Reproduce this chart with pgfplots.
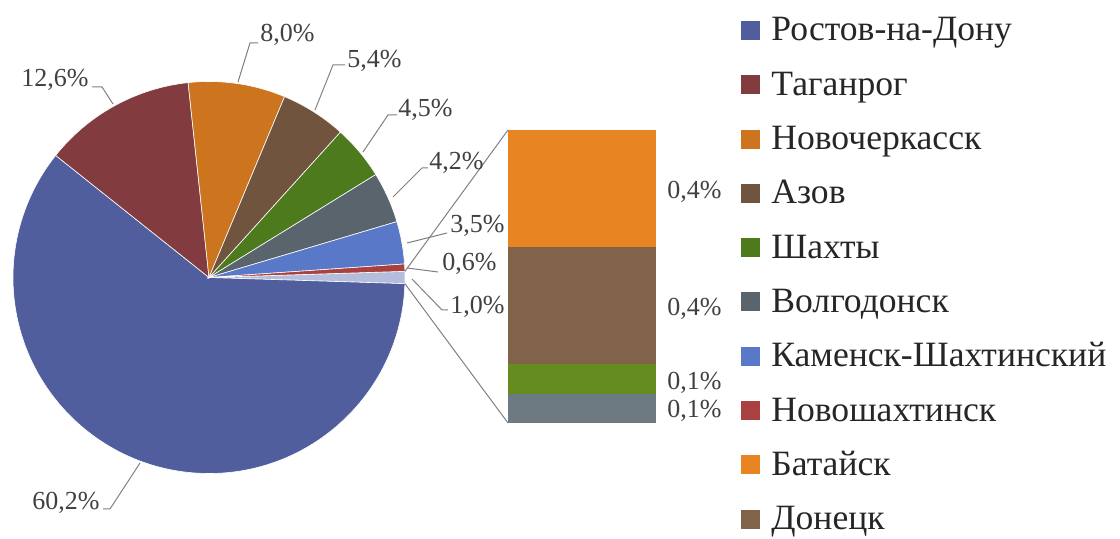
\documentclass[border=0pt]{standalone}
\usepackage{pgfplots}
\pgfplotsset{compat=1.18}
\usepackage{fontspec}
\setmainfont{Liberation Serif}
\definecolor{cRos}{RGB}{80,94,158}
\definecolor{cTag}{RGB}{130,60,63}
\definecolor{cNov}{RGB}{204,117,30}
\definecolor{cAzo}{RGB}{112,84,62}
\definecolor{cSha}{RGB}{78,122,30}
\definecolor{cVol}{RGB}{90,100,108}
\definecolor{cKam}{RGB}{90,120,200}
\definecolor{cNsh}{RGB}{170,65,65}
\definecolor{cOth}{RGB}{180,190,220}
\definecolor{cBat}{RGB}{232,133,35}
\definecolor{cDon}{RGB}{128,99,72}
\definecolor{cBGr}{RGB}{100,140,30}
\definecolor{cBGy}{RGB}{110,122,130}
\definecolor{lab}{RGB}{64,64,64}
\definecolor{lead}{RGB}{128,128,128}
\tikzset{blab/.style={anchor=west, inner sep=0pt, xshift=5.5pt, text=lab, font=\fontsize{13}{15}\selectfont}}
\begin{document}
\begin{tikzpicture}
% ---------- pie ----------
\begin{axis}[at={(104.5pt,-138.75pt)}, anchor=center, width=196pt, height=196pt,
  scale only axis, xmin=-1, xmax=1, ymin=-1, ymax=1, hide axis, clip=false]
\gdef\cur{1.8}
\foreach \v/\c in {1.0/cOth,60.2/cRos,12.6/cTag,8.0/cNov,5.4/cAzo,4.5/cSha,4.2/cVol,3.5/cKam,0.6/cNsh}{
  \pgfmathsetmacro\s{\cur}
  \pgfmathsetmacro\e{\cur-3.6*\v}
  \xdef\cur{\e}
  \edef\temp{\noexpand\fill[\c, draw=white, line width=0.3pt] (axis cs:0,0) -- (axis cs:{cos(\s)},{sin(\s)}) arc[start angle=\s, end angle=\e, radius=98pt] -- cycle;}
  \temp
}
\coordinate (pA) at (axis cs:{cos(1.8)},{sin(1.8)});
\coordinate (pB) at (axis cs:{cos(-1.8)},{sin(-1.8)});
\end{axis}
% ---------- bar of pie ----------
\begin{axis}[at={(254pt,-211.5pt)}, anchor=south west, width=74pt, height=146.5pt,
  scale only axis, xmin=-0.5, xmax=0.5, ymin=0, ymax=1.0, ybar stacked, bar width=74pt,
  hide axis, clip=false]
\addplot[fill=cBGy, draw=none] coordinates {(0,0.1)};
\addplot[fill=cBGr, draw=none] coordinates {(0,0.1)};
\addplot[fill=cDon, draw=none] coordinates {(0,0.4)};
\addplot[fill=cBat, draw=none] coordinates {(0,0.4)};
\node[blab] at (axis cs:0.5,0.79) {0,4\%};
\node[blab] at (axis cs:0.5,0.39) {0,4\%};
\node[blab] at (axis cs:0.5,0.137) {0,1\%};
\node[blab] at (axis cs:0.5,0.041) {0,1\%};
\coordinate (bT) at (axis cs:-0.5,1.0);
\coordinate (bB) at (axis cs:-0.5,0);
\end{axis}
\draw[lead, line width=0.5pt] (pA) -- (bT);
\draw[lead, line width=0.5pt] (pB) -- (bB);
% ---------- labels, leaders, legend (pixel units) ----------
\begin{scope}[x=0.5pt, y=-0.5pt]
\begin{scope}[every node/.style={inner sep=0pt, text=lab, font=\fontsize{13}{15}\selectfont}]
\draw[lead, line width=0.5pt] (113,104) -- (102,87) -- (92,87);
\node[anchor=east] at (89,80) {12,6\%};
\draw[lead, line width=0.5pt] (238,82) -- (250,43) -- (258,43);
\node[anchor=west] at (260,35) {8,0\%};
\draw[lead, line width=0.5pt] (315,110) -- (333,65) -- (345,65);
\node[anchor=west] at (347,61) {5,4\%};
\draw[lead, line width=0.5pt] (363,152) -- (388,115) -- (397,115);
\node[anchor=west] at (398,110) {4,5\%};
\draw[lead, line width=0.5pt] (393,197) -- (422,168) -- (428,168);
\node[anchor=west] at (429,163) {4,2\%};
\draw[lead, line width=0.5pt] (407,243) -- (447,233);
\node[anchor=west] at (450,226) {3,5\%};
\draw[lead, line width=0.5pt] (407,268) -- (438,272);
\node[anchor=west] at (442,264) {0,6\%};
\draw[lead, line width=0.5pt] (412,279) -- (442,310) -- (448,310);
\node[anchor=west] at (450,307) {1,0\%};
\draw[lead, line width=0.5pt] (140,463) -- (110,509) -- (103,509);
\node[anchor=east] at (100,503) {60,2\%};
\end{scope}
\foreach \i/\c/\t in {0/cRos/Ростов-на-Дону,1/cTag/Таганрог,2/cNov/Новочеркасск,3/cAzo/Азов,4/cSha/Шахты,5/cVol/Волгодонск,6/cKam/Каменск-Шахтинский,7/cNsh/Новошахтинск,8/cBat/Батайск,9/cDon/Донецк}{
  \pgfmathsetmacro\yc{30.5+54.3*\i}
  \fill[\c] (741,\yc-9.5) rectangle (760,\yc+9.5);
  \node[anchor=base west, inner sep=0pt, text=black!85, font=\fontsize{17.8}{20}\selectfont] at (771,\yc+10.5) {\t};
}
\pgfresetboundingbox
\path[use as bounding box] (0,0) rectangle (1120,539);
\end{scope}
\end{tikzpicture}
\end{document}
